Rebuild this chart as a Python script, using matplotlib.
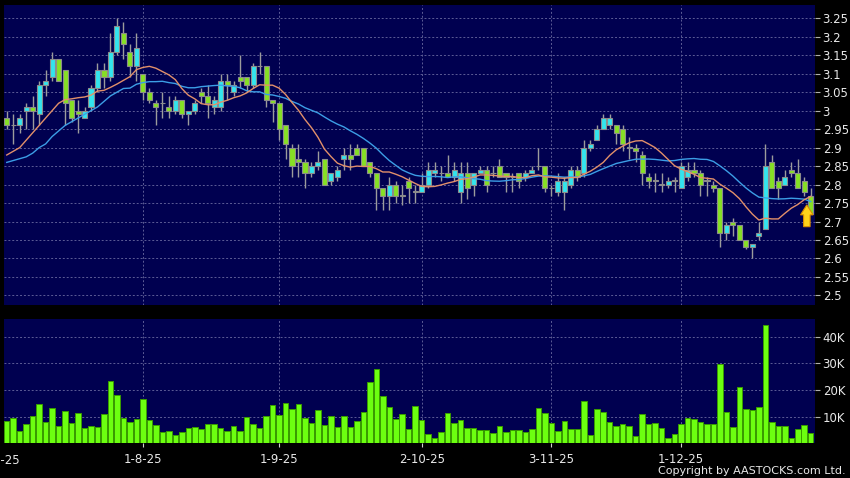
import numpy as np
import pandas as pd
import matplotlib
matplotlib.use("Agg")
import matplotlib.pyplot as plt
import matplotlib.transforms as mtransforms

# daily candles, one per trading day (index 0 = first bar on the chart)
opens = [2.98, 2.96, 2.96, 3.00, 3.01, 2.99, 3.07, 3.09, 3.14, 3.11,
         3.03, 3.00, 2.98, 3.01, 3.06, 3.11, 3.09, 3.16, 3.21, 3.16,
         3.12, 3.10, 3.05, 3.02, 3.02, 3.01, 3.00, 3.03, 2.99, 3.00,
         3.05, 3.04, 3.01, 3.01, 3.08, 3.05, 3.09, 3.09, 3.07, 3.12,
         3.12, 3.03, 3.02, 2.96, 2.90, 2.87, 2.86, 2.83, 2.85, 2.87,
         2.81, 2.82, 2.87, 2.88, 2.90, 2.90, 2.86, 2.83, 2.79, 2.77,
         2.80, 2.77, 2.81, 2.78, 2.78, 2.80, 2.83, 2.83, 2.83, 2.82,
         2.78, 2.83, 2.80, 2.83, 2.84, 2.83, 2.85, 2.83, 2.82, 2.83,
         2.82, 2.83, 2.85, 2.85, 2.79, 2.78, 2.78, 2.80, 2.84, 2.83,
         2.90, 2.92, 2.95, 2.96, 2.96, 2.95, 2.90, 2.90, 2.88, 2.82,
         2.81, 2.80, 2.80, 2.81, 2.79, 2.82, 2.84, 2.83, 2.81, 2.80,
         2.79, 2.67, 2.70, 2.69, 2.65, 2.63, 2.66, 2.68, 2.86, 2.81,
         2.80, 2.84, 2.83, 2.81, 2.77]
highs = [3.00, 2.99, 2.99, 3.02, 3.04, 3.08, 3.11, 3.16, 3.14, 3.11,
         3.03, 3.03, 3.01, 3.07, 3.13, 3.13, 3.21, 3.25, 3.24, 3.18,
         3.21, 3.10, 3.06, 3.03, 3.05, 3.04, 3.04, 3.03, 3.00, 3.03,
         3.06, 3.07, 3.04, 3.10, 3.10, 3.08, 3.15, 3.09, 3.13, 3.16,
         3.12, 3.03, 3.02, 2.96, 2.91, 2.91, 2.87, 2.86, 2.89, 2.87,
         2.83, 2.85, 2.90, 2.91, 2.91, 2.90, 2.86, 2.83, 2.79, 2.82,
         2.81, 2.80, 2.82, 2.80, 2.83, 2.86, 2.86, 2.85, 2.88, 2.86,
         2.86, 2.86, 2.83, 2.85, 2.85, 2.85, 2.87, 2.83, 2.83, 2.83,
         2.84, 2.85, 2.90, 2.85, 2.80, 2.83, 2.82, 2.85, 2.85, 2.92,
         2.92, 2.96, 2.99, 2.99, 2.96, 2.96, 2.93, 2.91, 2.89, 2.83,
         2.83, 2.83, 2.82, 2.82, 2.86, 2.86, 2.86, 2.84, 2.82, 2.81,
         2.79, 2.70, 2.71, 2.69, 2.65, 2.64, 2.70, 2.91, 2.88, 2.82,
         2.84, 2.86, 2.87, 2.82, 2.79]
lows = [2.95, 2.91, 2.94, 2.95, 2.95, 2.96, 3.04, 3.08, 3.08, 2.96,
        2.97, 2.94, 2.98, 3.00, 3.05, 3.06, 3.08, 3.15, 3.14, 3.09,
        3.08, 3.03, 3.02, 2.96, 2.98, 2.98, 2.99, 2.98, 2.96, 2.99,
        3.02, 2.98, 2.99, 3.00, 3.03, 3.04, 3.06, 3.05, 3.06, 3.10,
        3.01, 2.97, 2.92, 2.87, 2.82, 2.82, 2.79, 2.82, 2.84, 2.80,
        2.80, 2.81, 2.84, 2.84, 2.88, 2.85, 2.82, 2.73, 2.73, 2.73,
        2.75, 2.745, 2.75, 2.75, 2.78, 2.79, 2.82, 2.81, 2.82, 2.81,
        2.75, 2.76, 2.77, 2.83, 2.78, 2.82, 2.82, 2.78, 2.78, 2.79,
        2.81, 2.83, 2.84, 2.78, 2.77, 2.77, 2.73, 2.79, 2.81, 2.82,
        2.89, 2.92, 2.95, 2.95, 2.91, 2.89, 2.87, 2.86, 2.80, 2.79,
        2.78, 2.78, 2.79, 2.78, 2.79, 2.81, 2.82, 2.77, 2.77, 2.78,
        2.63, 2.65, 2.66, 2.65, 2.625, 2.60, 2.65, 2.68, 2.79, 2.76,
        2.80, 2.82, 2.79, 2.77, 2.72]
closes = [2.96, 2.96, 2.98, 3.01, 3.00, 3.07, 3.08, 3.14, 3.08, 3.02,
          2.98, 2.99, 3.00, 3.06, 3.11, 3.09, 3.16, 3.23, 3.18, 3.12,
          3.17, 3.05, 3.03, 3.01, 3.02, 3.00, 3.03, 2.99, 3.00, 3.02,
          3.04, 3.02, 3.03, 3.08, 3.07, 3.07, 3.08, 3.07, 3.12, 3.12,
          3.03, 3.02, 2.95, 2.91, 2.85, 2.86, 2.83, 2.85, 2.86, 2.80,
          2.83, 2.84, 2.88, 2.87, 2.88, 2.85, 2.83, 2.79, 2.77, 2.80,
          2.77, 2.77, 2.79, 2.78, 2.80, 2.84, 2.84, 2.83, 2.82, 2.84,
          2.83, 2.79, 2.83, 2.84, 2.80, 2.83, 2.82, 2.82, 2.82, 2.81,
          2.83, 2.84, 2.85, 2.79, 2.79, 2.81, 2.81, 2.84, 2.82, 2.90,
          2.91, 2.95, 2.98, 2.98, 2.94, 2.91, 2.90, 2.89, 2.83, 2.81,
          2.81, 2.80, 2.81, 2.81, 2.85, 2.84, 2.83, 2.80, 2.81, 2.79,
          2.67, 2.69, 2.69, 2.65, 2.63, 2.64, 2.67, 2.85, 2.79, 2.79,
          2.82, 2.83, 2.79, 2.78, 2.72]
volumes_k = [8.4, 9.6, 4.6, 7.4, 10.3, 14.6, 7.9, 13.3, 6.6, 12.1,
             7.5, 11.4, 5.75, 6.6, 6.1, 10.9, 23.3, 18.1, 9.5, 8.1,
             9.1, 16.5, 8.6, 7.0, 4.25, 4.75, 3.1, 4.25, 5.6, 6.1,
             5.5, 7.25, 7.25, 5.6, 4.6, 6.6, 4.5, 10.0, 7.25, 5.75,
             10.25, 14.4, 10.6, 15.1, 12.75, 14.75, 9.5, 7.75, 12.5, 6.9,
             10.25, 6.25, 10.25, 6.25, 8.25, 11.75, 23.1, 27.9, 17.75, 13.75,
             9.25, 10.9, 5.5, 14.1, 8.75, 3.4, 2.1, 4.25, 11.5, 7.75,
             8.6, 5.75, 5.75, 5.0, 5.0, 3.75, 6.6, 4.1, 4.9, 4.9,
             4.25, 5.25, 13.4, 11.4, 7.6, 4.75, 8.5, 5.25, 5.4, 15.9,
             3.1, 12.9, 11.6, 7.9, 6.4, 7.1, 6.5, 2.75, 10.9, 7.25,
             7.6, 5.6, 2.1, 3.5, 7.1, 9.6, 9.25, 8.1, 7.1, 7.1,
             29.75, 11.75, 6.25, 21.25, 13.0, 12.5, 13.75, 44.4, 8.0, 6.5,
             6.5, 2.0, 5.5, 6.75, 3.9]

# moving averages before enough bars exist on screen
ma10_head = [2.88, 2.89, 2.90, 2.92, 2.94, 2.96, 2.98, 3.00, 3.02]
ma20_head = [2.86, 2.865, 2.87, 2.875, 2.885, 2.90, 2.91, 2.93, 2.945, 2.96,
             2.97, 2.98, 2.99, 3.00, 3.01, 3.025, 3.04, 3.05, 3.06]

date_pos = [21, 42, 64, 84, 104]
date_labels = ["1-8-25", "1-9-25", "2-10-25", "3-11-25", "1-12-25"]
first_label = "2-7-25"

price_ticks = [2.5, 2.55, 2.6, 2.65, 2.7, 2.75, 2.8, 2.85, 2.9, 2.95,
               3.0, 3.05, 3.1, 3.15, 3.2, 3.25]
vol_ticks = [10, 20, 30, 40]

BG = "#000050"
GRID = "#5c5c96"
TXT = "#e8e8e8"
UP = "#33e4ee"
DOWN = "#86e024"
EDGE = "#8c8c8c"

n = len(closes)
x = np.arange(n)
o = np.array(opens)
c = np.array(closes)

ma10 = pd.Series(closes).rolling(10).mean().to_numpy()
ma10[:len(ma10_head)] = ma10_head
ma20 = pd.Series(closes).rolling(20).mean().to_numpy()
ma20[:len(ma20_head)] = ma20_head

fig = plt.figure(figsize=(8.5, 4.78), dpi=100, facecolor="black")
ax = fig.add_axes([4 / 850, 1 - 305 / 478, 811 / 850, 300 / 478])
axv = fig.add_axes([4 / 850, 1 - 443.3 / 478, 811 / 850, 124.3 / 478])

for a in (ax, axv):
    a.set_facecolor(BG)
    for s in a.spines.values():
        s.set_visible(False)
    a.set_xlim(-0.42, 124.66)
    a.yaxis.tick_right()
    a.tick_params(axis="y", colors="#b0b0b0", labelcolor=TXT, length=3.5,
                  width=0.8, pad=2, labelsize=8.5)
    a.set_xticks(date_pos)
    a.grid(True, color=GRID, linestyle=(0, (2, 2)), linewidth=0.7)
    a.set_axisbelow(True)

# candles
ax.vlines(x, lows, highs, color="#9c9c9c", linewidth=1.0, zorder=2)
body_lo = np.minimum(o, c)
body_h = np.maximum(np.abs(c - o), 0.0015)
cols = np.where(c > o, UP, np.where(c < o, DOWN, EDGE))
ax.bar(x, body_h, bottom=body_lo, width=0.78, color=cols,
       edgecolor=EDGE, linewidth=0.8, zorder=3)

ax.plot(x, ma20, color="#3c9ee6", linewidth=1.0, zorder=4)
ax.plot(x, ma10, color="#e2906a", linewidth=1.0, zorder=4)

# yellow arrow at the last bar
ax.arrow(123.4, 2.686, 0, 0.059, width=1.0, head_width=1.95,
         head_length=0.027, length_includes_head=True,
         fc="#ffd21a", ec="#d88c00", linewidth=0.8, zorder=6)

ax.set_ylim(2.474, 3.286)
ax.set_yticks(price_ticks)
ax.set_yticklabels(["%g" % t for t in price_ticks])
ax.tick_params(axis="x", length=0, labelbottom=False)

# volume
axv.bar(x, volumes_k, width=0.85, color="#6cff10", edgecolor="#3a9c00",
        linewidth=0.7, zorder=3)
axv.set_ylim(0, 46.6)
axv.set_yticks(vol_ticks)
axv.set_yticklabels(["%dK" % v for v in vol_ticks])
axv.set_xticklabels(date_labels)
axv.tick_params(axis="x", colors="#d0d0d0", labelcolor=TXT, length=3,
                width=0.8, pad=4, labelsize=8.5)

trans = mtransforms.blended_transform_factory(axv.transData, axv.transAxes)
axv.text(-1, -0.135, first_label, transform=trans, ha="center", va="center",
         color=TXT, fontsize=8.5, clip_on=False)

fig.text(846 / 850, 1 - 471 / 478, "Copyright by AASTOCKS.com Ltd.",
         ha="right", va="center", color=TXT, fontsize=8)

fig.savefig("out.png", dpi=100, facecolor="black")
